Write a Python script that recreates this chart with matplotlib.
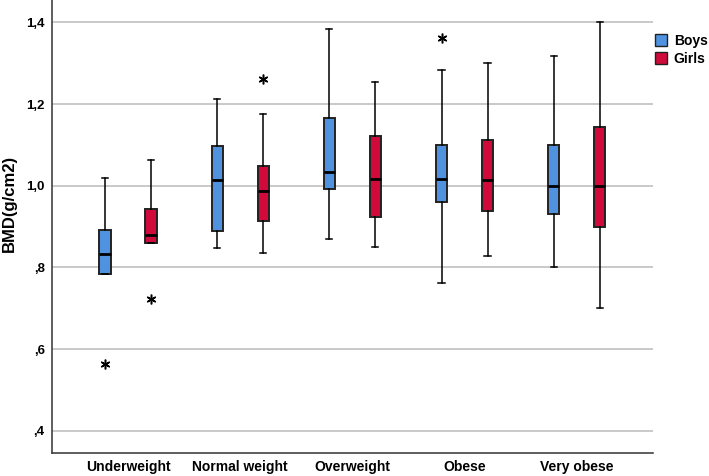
import numpy as np
import matplotlib
matplotlib.use('Agg')
import matplotlib.pyplot as plt
from matplotlib.patches import Patch

plt.rcParams['font.family'] = ['Liberation Sans', 'DejaVu Sans']

groups = ['Underweight', 'Normal weight', 'Overweight', 'Obese', 'Very obese']

# boys: whisker low, Q1, median, Q3, whisker high
boys_wlo = [0.785, 0.847, 0.869, 0.762, 0.800]
boys_q1 = [0.785, 0.889, 0.993, 0.960, 0.930]
boys_med = [0.833, 1.014, 1.033, 1.017, 1.000]
boys_q3 = [0.891, 1.098, 1.167, 1.100, 1.100]
boys_whi = [1.018, 1.213, 1.383, 1.283, 1.318]
boys_out = [[0.563], [], [], [1.362], []]

girls_wlo = [0.859, 0.835, 0.851, 0.828, 0.700]
girls_q1 = [0.859, 0.914, 0.924, 0.938, 0.900]
girls_med = [0.879, 0.987, 1.016, 1.014, 1.000]
girls_q3 = [0.943, 1.049, 1.123, 1.113, 1.144]
girls_whi = [1.063, 1.177, 1.255, 1.300, 1.400]
girls_out = [[0.722], [1.261], [], [], []]

yticks = [0.4, 0.6, 0.8, 1.0, 1.2, 1.4]
ytick_labels = [',4', ',6', ',8', '1,0', '1,2', '1,4']

blue = '#4f92e0'
red = '#d10a3c'


def make_stats(wlo, q1, med, q3, whi, out):
    stats = []
    for i in range(len(med)):
        stats.append({'whislo': wlo[i], 'q1': q1[i], 'med': med[i],
                      'q3': q3[i], 'whishi': whi[i], 'fliers': out[i]})
    return stats


fig = plt.figure(figsize=(7.09, 4.76), dpi=100)
ax = fig.add_axes([0.0729, 0.0477, 0.8481, 0.9523])

x = np.arange(len(groups))
off = 0.205
for stats, color, dx in [(make_stats(boys_wlo, boys_q1, boys_med, boys_q3, boys_whi, boys_out), blue, -off),
                         (make_stats(girls_wlo, girls_q1, girls_med, girls_q3, girls_whi, girls_out), red, off)]:
    ax.bxp(stats, positions=x + dx, widths=0.1, patch_artist=True,
           showfliers=True,
           boxprops=dict(facecolor=color, edgecolor='#222222', linewidth=1.4),
           medianprops=dict(color='black', linewidth=2),
           whiskerprops=dict(color='black', linewidth=1.1),
           capprops=dict(color='black', linewidth=1.1),
           capwidths=0.055,
           flierprops=dict(marker=(6, 2, 0), markersize=7, markerfacecolor='black',
                           markeredgecolor='black', markeredgewidth=1.1,
                           linestyle='none'),
           zorder=3)

ax.set_xlim(-0.68, 4.68)
ax.set_ylim(0.345, 1.455)
ax.set_xticks(x)
ax.set_xticklabels(groups, fontsize=10, fontweight='bold')
ax.set_yticks(yticks)
ax.set_yticklabels(ytick_labels, fontsize=9.5, fontweight='bold')
ax.tick_params(length=0, pad=5)
ax.yaxis.grid(True, color='#c0c0c0', linewidth=1.2)
ax.set_axisbelow(True)
for s in ['top', 'right']:
    ax.spines[s].set_visible(False)
for s in ['left', 'bottom']:
    ax.spines[s].set_color('#333333')
    ax.spines[s].set_linewidth(1.1)
ax.set_ylabel('BMD(g/cm2)', fontsize=12, fontweight='bold')
ax.yaxis.set_label_coords(-0.058, 0.552)

handles = [Patch(facecolor=blue, edgecolor='#222222', label='Boys'),
           Patch(facecolor=red, edgecolor='#222222', label='Girls')]
fig.legend(handles=handles, loc='upper left', bbox_to_anchor=(0.916, 0.94),
           frameon=False, prop=dict(weight='bold', size=10),
           handlelength=0.9, handleheight=0.95, handletextpad=0.45,
           labelspacing=0.25, borderaxespad=0)

fig.savefig('out.png', dpi=100)
